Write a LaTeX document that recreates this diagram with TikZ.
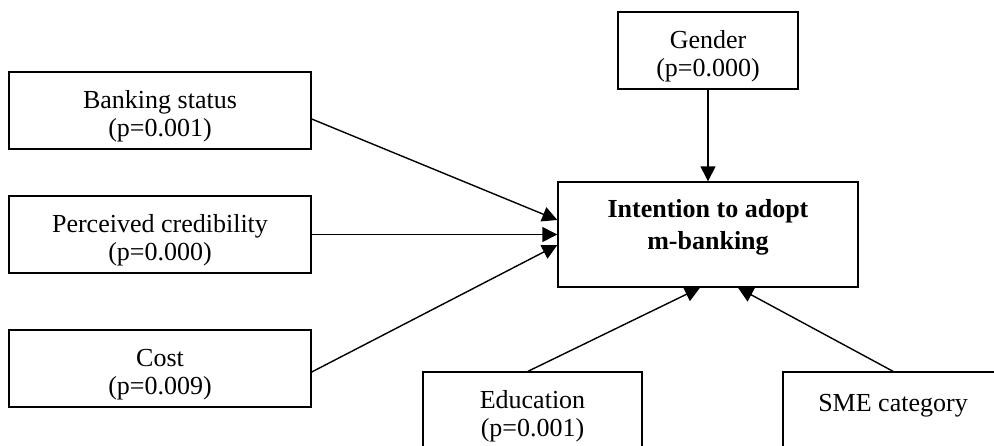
\documentclass[tikz,border=0pt]{standalone}
\usepackage{fontspec}
\setmainfont{Liberation Serif}
\usetikzlibrary{arrows.meta}
\newcommand{\toppad}{\rule{0pt}{14.5pt}}
\begin{document}
\begin{tikzpicture}[x=0.5pt,y=-0.5pt,
  box/.style={draw, line width=0.7pt, inner sep=0pt, align=center,
    font=\fontsize{13}{14}\selectfont, minimum height=38.5pt},
  boldtext/.style={inner sep=0pt, align=center,
    font=\fontsize{13}{16}\selectfont\bfseries},
  arr/.style={-{Triangle[length=7.5pt,width=7.5pt]}, line width=0.7pt}]
\useasboundingbox (0,0) rectangle (994,445);
\clip (0,0) rectangle (994,445);
% predictor boxes
\node[box, minimum width=151pt] (bank) at (160,110.5) {\toppad Banking status\\(p=0.001)};
\node[box, minimum width=151pt] (perc) at (160,234.5) {\toppad Perceived credibility\\(p=0.000)};
\node[box, minimum width=151pt] (cost) at (160,368.5) {\toppad Cost\\(p=0.009)};
\node[box, minimum width=90pt] (gender) at (708,50.5) {\toppad Gender\\(p=0.000)};
\node[box, minimum width=109.5pt] (edu) at (532.5,410.5) {\toppad Education\\(p=0.001)};
\node[box, minimum width=110pt] (sme) at (893,410.5) {\toppad SME category\\\mbox{}};
% outcome
\node[draw, line width=0.7pt, inner sep=0pt, minimum width=150pt, minimum height=52.5pt] (main) at (708,234.5) {};
\node[boldtext] (mainlabel) at (708,227) {Intention to adopt\\m-banking};
% connectors
\draw[arr] ([yshift=-4.25pt]bank.east) -- ([yshift=7.25pt]main.west);
\draw[arr] (perc.east) -- (main.west);
\draw[arr] ([yshift=-1.75pt]cost.east) -- ([yshift=-5.25pt]main.west);
\draw[arr] (gender.south) -- (main.north);
\draw[arr] ([xshift=-2.25pt]edu.north) -- ([xshift=-4pt]main.south);
\draw[arr] (sme.north) -- ([xshift=15pt]main.south);
\end{tikzpicture}
\end{document}
